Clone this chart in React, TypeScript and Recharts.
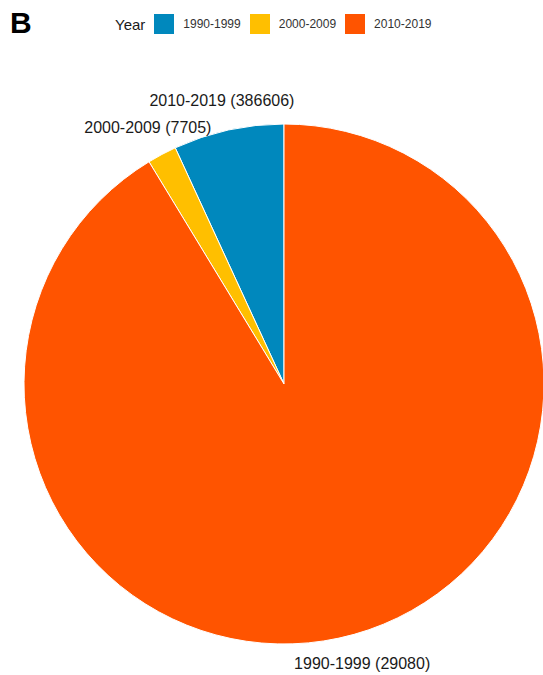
import { PieChart, Pie, Cell } from 'recharts';

const years = ['1990-1999', '2000-2009', '2010-2019'];
const counts = [29080, 7705, 386606];
const colors = ['#0088BD', '#FFBF00', '#FF5400'];

const data = years.map((year, i) => ({ year, count: counts[i] }));

const RADIAN = Math.PI / 180;
const FONT = '"Liberation Sans", Arial, sans-serif';

// labels are placed at each slice's middle but (as in the original figure) in reverse order
const renderLabel = (props: any) => {
  const { cx, cy, midAngle, outerRadius, index } = props;
  const r = outerRadius + 30;
  const x = cx + r * Math.cos(-midAngle * RADIAN);
  const y = cy + r * Math.sin(-midAngle * RADIAN);
  const j = years.length - 1 - index;
  return (
    <text
      x={x}
      y={y}
      textAnchor="middle"
      dominantBaseline="central"
      fontSize={16}
      fontFamily={FONT}
      fill="#1a1a1a"
    >
      {`${years[j]} (${counts[j]})`}
    </text>
  );
};

function YearLegend() {
  return (
    <div
      style={{
        position: 'absolute',
        left: 115,
        top: 14,
        display: 'flex',
        alignItems: 'center',
        fontFamily: FONT,
      }}
    >
      <span style={{ fontSize: 15, color: '#1a1a1a', marginRight: 9 }}>Year</span>
      {years.map((y, i) => (
        <span key={y} style={{ display: 'flex', alignItems: 'center', marginRight: 9 }}>
          <span
            style={{
              width: 20,
              height: 20,
              background: colors[i],
              display: 'inline-block',
              marginRight: 9,
            }}
          />
          <span style={{ fontSize: 12, color: '#333' }}>{y}</span>
        </span>
      ))}
    </div>
  );
}

export default function App() {
  return (
    <div
      style={{
        position: 'absolute',
        left: 0,
        top: 0,
        width: 543,
        height: 675,
        background: '#fff',
        overflow: 'hidden',
      }}
    >
      <div
        style={{
          position: 'absolute',
          left: 10,
          top: 6,
          fontFamily: FONT,
          fontWeight: 'bold',
          fontSize: 30,
          color: '#000',
        }}
      >
        B
      </div>
      <YearLegend />
      <PieChart width={543} height={675} margin={{ top: 0, right: 0, bottom: 0, left: 0 }}>
        <Pie
          data={data}
          dataKey="count"
          nameKey="year"
          cx={284}
          cy={384}
          outerRadius={260}
          startAngle={90}
          endAngle={450}
          stroke="#fff"
          strokeWidth={1}
          label={renderLabel}
          labelLine={false}
          isAnimationActive={false}
        >
          {data.map((d, i) => (
            <Cell key={d.year} fill={colors[i]} />
          ))}
        </Pie>
      </PieChart>
    </div>
  );
}
